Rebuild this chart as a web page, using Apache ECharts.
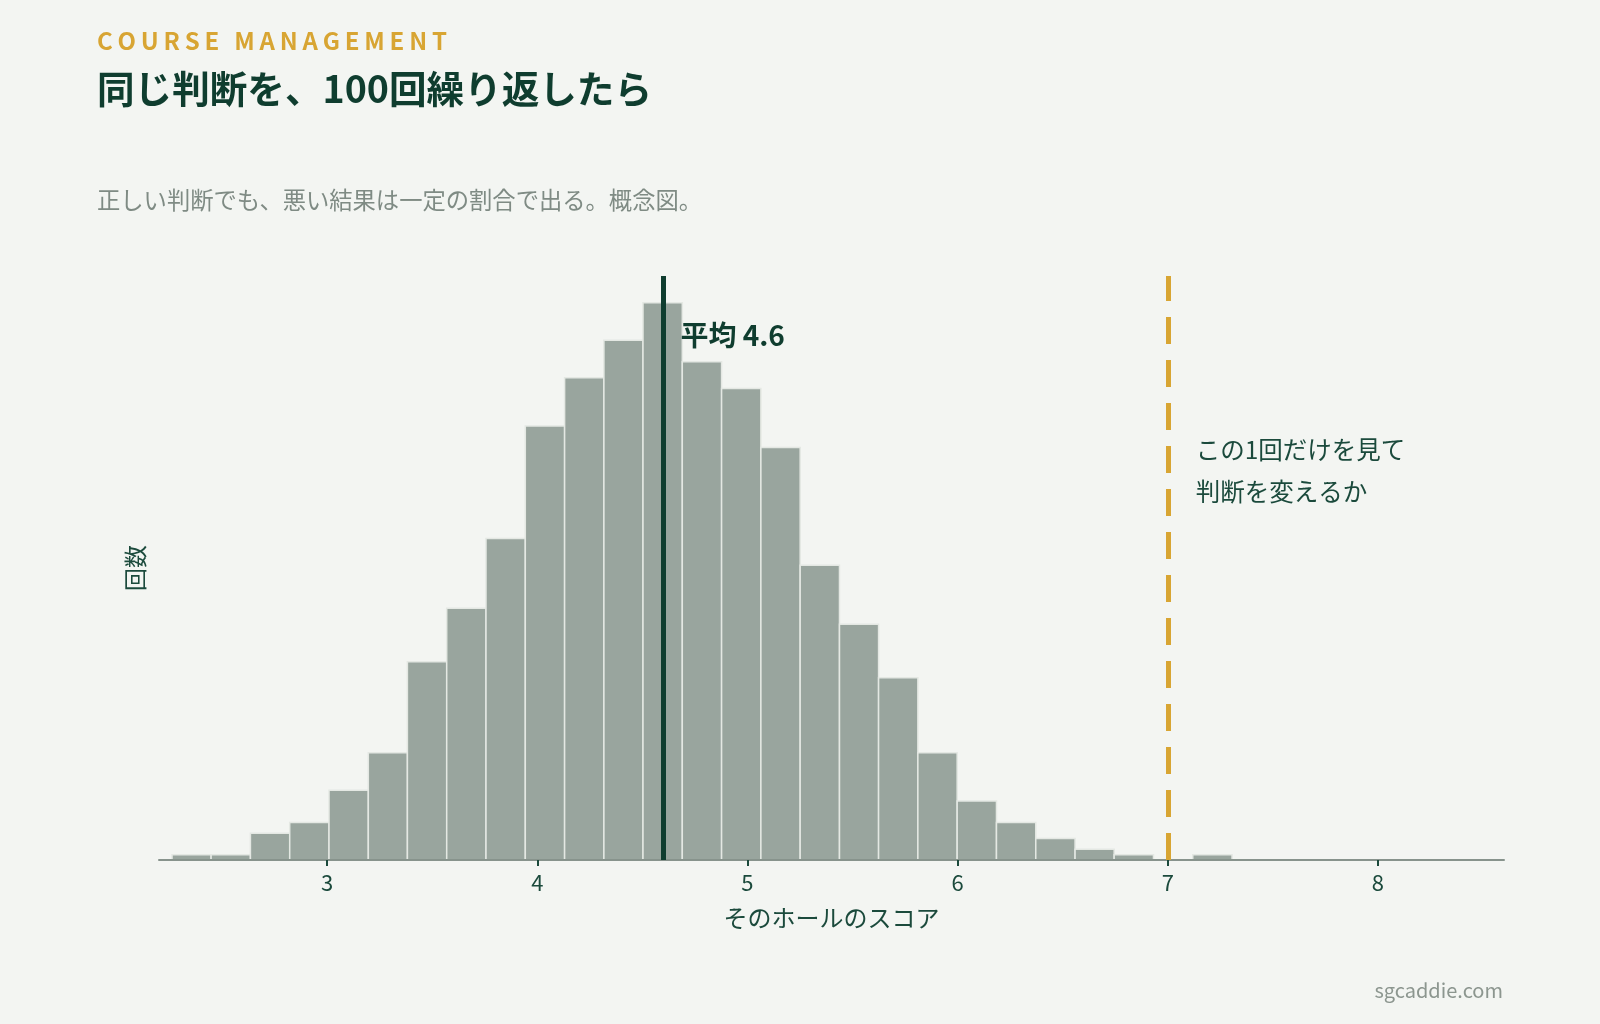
<!DOCTYPE html>
<html>
<head>
<meta charset="utf-8">
<title>同じ判断を、100回繰り返したら</title>
<script src="https://cdn.jsdelivr.net/npm/echarts@6/dist/echarts.min.js"></script>
<style>
html,body{margin:0;padding:0;background:#f3f5f2;}
#main{width:1600px;height:1024px;}
</style>
</head>
<body>
<div id="main"></div>
<script>
// ビンの境界（スコア）
var binEdges = [2.075, 2.262, 2.448, 2.635, 2.822, 3.009, 3.196, 3.382, 3.569, 3.756,
                3.943, 4.130, 4.317, 4.503, 4.690, 4.877, 5.064, 5.251, 5.438, 5.624,
                5.811, 5.998, 6.185, 6.372, 6.559, 6.745, 6.932, 7.119, 7.306];
// 各ビンの回数（1000回中）
var binCounts = [0, 1, 1, 5, 7, 13, 20, 37, 47, 60,
                 81, 90, 97, 104, 93, 88, 77, 55, 44, 34,
                 20, 11, 7, 4, 2, 1, 0, 1];
var xTicks = [3, 4, 5, 6, 7, 8];
var meanScore = 4.6;
var badScore = 7;

var FONT = '"Noto Sans CJK JP", "Noto Sans", sans-serif';
var DARK = '#0f3d2f';
var TEXT = '#1b4a3c';
var GOLD = '#d8a533';
var GREY = '#7f8b84';

var histData = [];
for (var i = 0; i < binCounts.length; i++) {
	histData.push([binEdges[i], binEdges[i + 1], binCounts[i]]);
}

var myChart = echarts.init(document.getElementById('main'), null, {renderer: 'canvas'});

function renderBar(params, api) {
	var p0 = api.coord([api.value(0), 0]);
	var p1 = api.coord([api.value(1), api.value(2)]);
	var cs = params.coordSys;
	var rect = echarts.graphic.clipRectByRect(
		{x: p0[0], y: p1[1], width: p1[0] - p0[0], height: p0[1] - p1[1]},
		{x: cs.x, y: cs.y, width: cs.width, height: cs.height}
	);
	if (!rect) return;
	return {
		type: 'rect',
		shape: rect,
		style: {fill: '#99a59e', stroke: '#e4e8e3', lineWidth: 1.5}
	};
}

var option = {
	backgroundColor: '#f3f5f2',
	textStyle: {fontFamily: FONT},
	animation: false,
	grid: {left: 159, right: 96, top: 276, bottom: 164},
	xAxis: {
		type: 'value',
		min: 2.2,
		max: 8.6,
		z: 5,
		splitLine: {show: false},
		axisLine: {show: true, onZero: false, lineStyle: {color: '#87938c', width: 2}},
		axisTick: {show: true, length: 6, customValues: xTicks, lineStyle: {color: TEXT, width: 2}},
		axisLabel: {customValues: xTicks, color: TEXT, fontSize: 22, margin: 12, fontFamily: FONT},
		name: 'そのホールのスコア',
		nameLocation: 'middle',
		nameGap: 46,
		nameTextStyle: {color: TEXT, fontSize: 24, fontFamily: FONT}
	},
	yAxis: {
		type: 'value',
		min: 0,
		max: 109,
		axisLine: {show: false},
		axisTick: {show: false},
		axisLabel: {show: false},
		splitLine: {show: false},
		name: '回数',
		nameLocation: 'middle',
		nameRotate: 90,
		nameGap: 12,
		nameTextStyle: {color: TEXT, fontSize: 23, fontFamily: FONT}
	},
	series: [{
		type: 'custom',
		z: 1,
		renderItem: renderBar,
		encode: {x: [0, 1], y: 2},
		data: histData,
		markLine: {
			silent: true,
			z: 6,
			symbol: ['none', 'none'],
			label: {show: false},
			data: [
				{xAxis: meanScore, lineStyle: {color: DARK, width: 5, type: 'solid'}},
				{xAxis: badScore, lineStyle: {color: GOLD, width: 5, type: [27, 16]}}
			]
		}
	}]
};
myChart.setOption(option);

// 見出しと注記
function drawTexts() {
	var meanPx = myChart.convertToPixel({xAxisIndex: 0, yAxisIndex: 0}, [meanScore, 0]);
	var badPx = myChart.convertToPixel({xAxisIndex: 0, yAxisIndex: 0}, [badScore, 0]);
	myChart.setOption({
		graphic: [
			{type: 'text', x: 97, y: 41, style: {text: 'COURSE MANAGEMENT'.split('').join('\u2009'), font: 'bold 24px ' + FONT, fill: GOLD, textVerticalAlign: 'middle'}},
			{type: 'text', x: 97, y: 89, style: {text: '同じ判断を、100回繰り返したら', font: 'bold 37.6px ' + FONT, fill: DARK, textVerticalAlign: 'middle'}},
			{type: 'text', x: 97, y: 200, style: {text: '正しい判断でも、悪い結果は一定の割合で出る。概念図。', font: '23.3px ' + FONT, fill: GREY, textVerticalAlign: 'middle'}},
			{type: 'text', x: meanPx[0] + 17, y: 335, z: 10, style: {text: '平均 4.6', font: 'bold 28px ' + FONT, fill: DARK, textVerticalAlign: 'middle'}},
			{type: 'text', x: badPx[0] + 28, y: 450, style: {text: 'この1回だけを見て', font: '24.5px ' + FONT, fill: TEXT, textVerticalAlign: 'middle'}},
			{type: 'text', x: badPx[0] + 28, y: 492, style: {text: '判断を変えるか', font: '24.5px ' + FONT, fill: TEXT, textVerticalAlign: 'middle'}},
			{type: 'text', x: 1503, y: 990, style: {text: 'sgcaddie.com', font: '20px ' + FONT, fill: '#8c968f', textAlign: 'right', textVerticalAlign: 'middle'}}
		]
	});
}
drawTexts();
</script>
</body>
</html>
